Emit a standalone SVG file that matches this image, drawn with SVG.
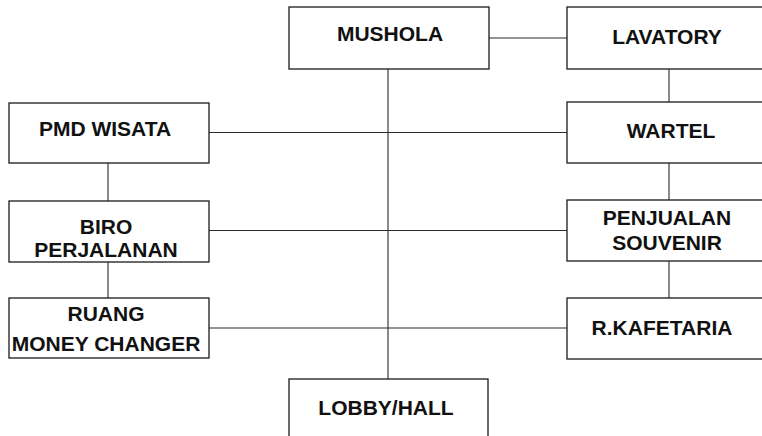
<svg xmlns="http://www.w3.org/2000/svg" width="762" height="436" viewBox="0 0 762 436">
<style>
.box{fill:#fff;stroke:#1a1a1a;stroke-width:1.3}
.ln{stroke:#2a2a2a;stroke-width:1.1;fill:none}
text{font-family:"Liberation Sans",Arial,sans-serif;font-weight:bold;font-size:21px;fill:#111;text-anchor:middle}
</style>
<rect width="762" height="436" fill="#fff"/>
<g id="connectors">
<line class="ln" x1="388" y1="69" x2="388" y2="379"/>
<line class="ln" x1="489" y1="38" x2="567" y2="38"/>
<line class="ln" x1="669" y1="69" x2="669" y2="102"/>
<line class="ln" x1="669" y1="163" x2="669" y2="200"/>
<line class="ln" x1="669" y1="261" x2="669" y2="298"/>
<line class="ln" x1="108" y1="163" x2="108" y2="201"/>
<line class="ln" x1="108" y1="262" x2="108" y2="298"/>
<line class="ln" x1="209" y1="132.5" x2="567" y2="132.5"/>
<line class="ln" x1="209" y1="230.5" x2="567" y2="230.5"/>
<line class="ln" x1="209" y1="328" x2="567" y2="328"/>
</g>
<g id="mushola"><rect class="box" x="289" y="7" width="200" height="62"/><text x="390" y="41">MUSHOLA</text></g>
<g id="lavatory"><rect class="box" x="567" y="7" width="205" height="62"/><text x="667" y="44">LAVATORY</text></g>
<g id="wartel"><rect class="box" x="567" y="102" width="205" height="61"/><text x="671" y="138">WARTEL</text></g>
<g id="penjualan-souvenir"><rect class="box" x="567" y="200" width="205" height="61"/><text x="667" y="225">PENJUALAN</text><text x="667" y="250">SOUVENIR</text></g>
<g id="r-kafetaria"><rect class="box" x="567" y="298" width="205" height="61"/><text x="662" y="335">R.KAFETARIA</text></g>
<g id="pmd-wisata"><rect class="box" x="9" y="103" width="200" height="60"/><text x="105" y="136">PMD WISATA</text></g>
<g id="biro-perjalanan"><rect class="box" x="9" y="201" width="200" height="61"/><text x="106" y="234">BIRO</text><text x="106" y="257">PERJALANAN</text></g>
<g id="ruang-money-changer"><rect class="box" x="9" y="298" width="200" height="60"/><text x="106" y="320.5">RUANG</text><text x="106" y="350.5">MONEY CHANGER</text></g>
<g id="lobby-hall"><rect class="box" x="289" y="379" width="199" height="70"/><text x="386" y="415">LOBBY/HALL</text></g>
</svg>
